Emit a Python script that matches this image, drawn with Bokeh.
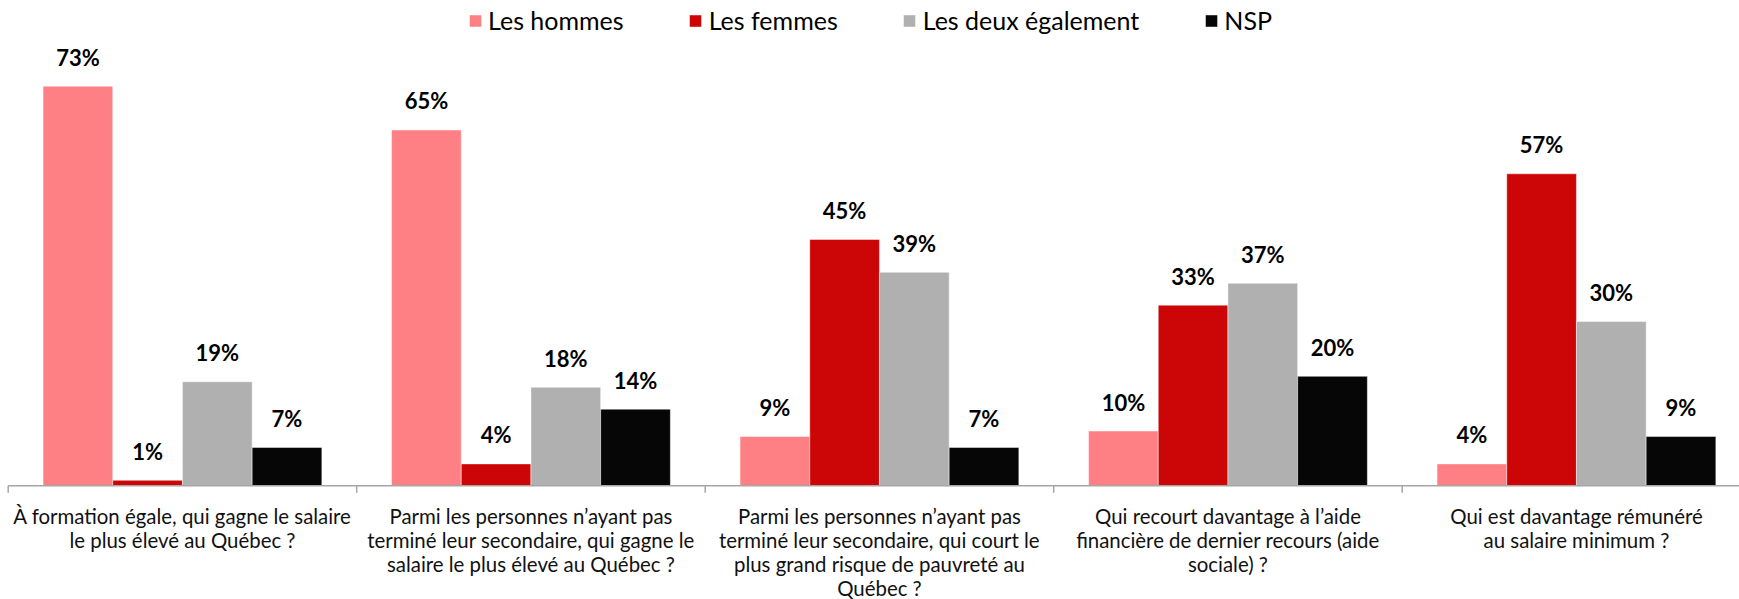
from bokeh.plotting import figure
from bokeh.models import Range1d, ColumnDataSource, Legend, LegendItem
from bokeh.core.properties import value
from bokeh.embed import file_html
from bokeh.resources import INLINE

categories = [
    "À formation égale, qui gagne le salaire\nle plus élevé au Québec ?",
    "Parmi les personnes n’ayant pas\nterminé leur secondaire, qui gagne le\nsalaire le plus élevé au Québec ?",
    "Parmi les personnes n’ayant pas\nterminé leur secondaire, qui court le\nplus grand risque de pauvreté au\nQuébec ?",
    "Qui recourt davantage à l’aide\nfinancière de dernier recours (aide\nsociale) ?",
    "Qui est davantage rémunéré\nau salaire minimum ?",
]
series_names = ["Les hommes", "Les femmes", "Les deux également", "NSP"]
hommes = [73, 65, 9, 10, 4]
femmes = [1, 4, 45, 33, 57]
deux = [19, 18, 39, 37, 30]
nsp = [7, 14, 7, 20, 9]
series_values = [hommes, femmes, deux, nsp]
colors = ["#FF8084", "#CC0606", "#B0B0B0", "#060606"]

PX_PER_CAT = 348.5
PX_PER_PCT = 5.474
W, H = 1739, 599
AXIS_X0 = 7.7           # pixel column where the category axis starts
AXIS_Y = 485.3          # pixel row of the baseline inside the canvas
AXIS_COLOR = "#A6A6A6"

x0 = -AXIS_X0 / PX_PER_CAT
p = figure(width=W, height=H, output_backend="svg", toolbar_location=None,
           x_range=Range1d(x0, x0 + W / PX_PER_CAT),
           y_range=Range1d(-(H - AXIS_Y) / PX_PER_PCT, AXIS_Y / PX_PER_PCT),
           x_axis_location=None, y_axis_location=None,
           min_border=0)
p.outline_line_color = None
p.xgrid.visible = False
p.ygrid.visible = False
p.background_fill_color = "white"
p.border_fill_color = "white"

n = len(categories)
bar_w = 0.2
items = []
for j, (name, vals, col) in enumerate(zip(series_names, series_values, colors)):
    xs = [i + 0.1 + bar_w / 2 + bar_w * j for i in range(n)]
    src = ColumnDataSource(dict(x=xs, top=vals, lab=[f"{v}%" for v in vals]))
    r = p.vbar(x="x", top="top", bottom=0, width=bar_w, source=src, fill_color=col,
               line_color="white", line_alpha=0.45, line_width=1)
    p.text(x="x", y="top", text="lab", source=src, text_align="center",
           text_baseline="alphabetic", y_offset=-29,
           text_font=value("Lato"), text_font_style="bold",
           text_font_size="22px", text_color="#000000")
    items.append(LegendItem(label=name, renderers=[r]))

# category axis: baseline, boundary ticks, multi-line labels
bounds = list(range(n + 1))
p.segment(x0=[0], x1=[n], y0=[0], y1=[0], line_color=AXIS_COLOR, line_width=1.5)
p.segment(x0=bounds, x1=bounds, y0=[0] * len(bounds),
          y1=[-7 / PX_PER_PCT] * len(bounds), line_color=AXIS_COLOR, line_width=1.5)

lx, ltxt, loff = [], [], []
for i, cat in enumerate(categories):
    for k, line in enumerate(cat.split("\n")):
        lx.append(i + 0.5)
        ltxt.append(line)
        loff.append(30 + 24 * k)
lsrc = ColumnDataSource(dict(x=lx, y=[0] * len(lx), t=ltxt, off=loff))
p.text(x="x", y="y", text="t", y_offset="off", source=lsrc, text_align="center",
       text_baseline="alphabetic", text_font=value("Lato"),
       text_font_size="20.4px", text_color="#111111")

legend = Legend(items=items, orientation="horizontal", location="top_center",
                label_text_font="Lato", label_text_font_size="25px",
                label_text_color="#000000",
                glyph_width=15, glyph_height=15, label_standoff=6, spacing=64,
                border_line_color=None, background_fill_alpha=0,
                margin=5, padding=0)
p.add_layout(legend)

open("out.html", "w").write(file_html(p, INLINE))
